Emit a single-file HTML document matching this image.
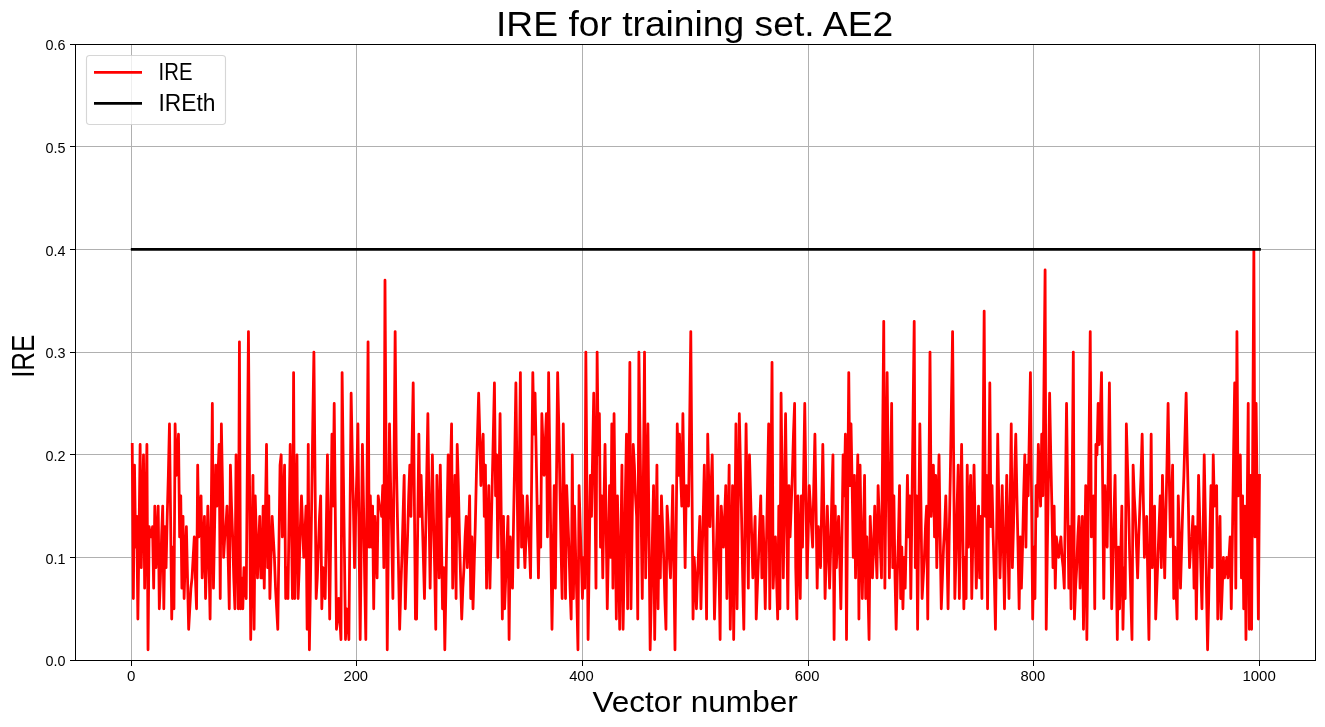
<!DOCTYPE html><html><head><meta charset="utf-8"><title>IRE for training set. AE2</title>
<style>html,body{margin:0;padding:0;background:#fff;}body{width:1325px;height:727px;overflow:hidden;font-family:"Liberation Sans",sans-serif;}svg{display:block;}text{font-family:"Liberation Sans",sans-serif;fill:#000;}svg{will-change:transform;}</style></head><body>
<svg width="1325" height="727" viewBox="0 0 1325 727">
<rect x="0" y="0" width="1325" height="727" fill="#ffffff"/>
<g stroke="#b0b0b0" stroke-width="1" shape-rendering="crispEdges"><line x1="131.5" y1="44.5" x2="131.5" y2="660.5"/><line x1="356.5" y1="44.5" x2="356.5" y2="660.5"/><line x1="582.5" y1="44.5" x2="582.5" y2="660.5"/><line x1="808.5" y1="44.5" x2="808.5" y2="660.5"/><line x1="1033.5" y1="44.5" x2="1033.5" y2="660.5"/><line x1="1259.5" y1="44.5" x2="1259.5" y2="660.5"/><line x1="75.5" y1="557.5" x2="1315.5" y2="557.5"/><line x1="75.5" y1="454.5" x2="1315.5" y2="454.5"/><line x1="75.5" y1="352.5" x2="1315.5" y2="352.5"/><line x1="75.5" y1="249.5" x2="1315.5" y2="249.5"/><line x1="75.5" y1="146.5" x2="1315.5" y2="146.5"/></g>
<svg x="75.5" y="44.5" width="1240.0" height="616.0" viewBox="75.5 44.5 1240.0 616.0" overflow="hidden">
<polyline fill="none" stroke="#ff0000" stroke-width="2.78" stroke-linejoin="round" stroke-linecap="square" points="132.23,444.50 133.36,598.50 134.49,465.03 135.61,547.17 136.74,516.37 137.87,619.03 139.00,536.90 140.13,444.50 141.26,567.70 142.38,506.10 143.51,454.77 144.64,588.23 145.77,516.37 146.90,444.50 148.03,649.83 149.15,526.63 150.28,536.90 151.41,536.90 152.54,526.63 153.67,588.23 154.80,506.10 155.92,567.70 157.05,536.90 158.18,506.10 159.31,608.77 160.44,577.97 161.57,536.90 162.70,506.10 163.82,608.77 164.95,526.63 166.08,567.70 167.21,516.37 168.34,475.30 169.47,423.97 170.59,516.37 171.72,619.03 172.85,547.17 173.98,608.77 175.11,423.97 176.24,475.30 177.36,454.77 178.49,434.23 179.62,536.90 180.75,495.83 181.88,588.23 183.01,516.37 184.13,598.50 185.26,557.43 186.39,526.63 187.52,577.97 188.65,629.30 189.78,608.77 190.91,588.23 192.03,577.97 193.16,557.43 194.29,536.90 195.42,577.97 196.55,608.77 197.68,465.03 198.80,536.90 199.93,516.37 201.06,495.83 202.19,577.97 203.32,547.17 204.45,516.37 205.57,598.50 206.70,557.43 207.83,506.10 208.96,557.43 210.09,619.03 211.22,516.37 212.34,403.43 213.47,588.23 214.60,526.63 215.73,465.03 216.86,506.10 217.99,475.30 219.12,444.50 220.24,598.50 221.37,423.97 222.50,485.57 223.63,557.43 224.76,536.90 225.89,526.63 227.01,506.10 228.14,557.43 229.27,608.77 230.40,465.03 231.53,506.10 232.66,536.90 233.78,577.97 234.91,608.77 236.04,454.77 237.17,536.90 238.30,608.77 239.43,341.83 240.55,608.77 241.68,577.97 242.81,608.77 243.94,567.70 245.07,588.23 246.20,598.50 247.33,465.03 248.45,331.57 249.58,485.57 250.71,639.57 251.84,557.43 252.97,475.30 254.10,629.30 255.22,495.83 256.35,536.90 257.48,577.97 258.61,547.17 259.74,516.37 260.87,577.97 261.99,577.97 263.12,506.10 264.25,588.23 265.38,516.37 266.51,444.50 267.64,567.70 268.76,495.83 269.89,598.50 271.02,557.43 272.15,516.37 273.28,536.90 274.41,557.43 275.54,588.23 276.66,608.77 277.79,629.30 278.92,547.17 280.05,465.03 281.18,454.77 282.31,536.90 283.43,506.10 284.56,465.03 285.69,598.50 286.82,567.70 287.95,598.50 289.08,516.37 290.20,444.50 291.33,516.37 292.46,598.50 293.59,372.63 294.72,598.50 295.85,526.63 296.97,454.77 298.10,598.50 299.23,567.70 300.36,526.63 301.49,495.83 302.62,526.63 303.75,557.43 304.87,536.90 306.00,506.10 307.13,629.30 308.26,444.50 309.39,649.83 310.52,577.97 311.64,506.10 312.77,423.97 313.90,352.10 315.03,475.30 316.16,598.50 317.29,577.97 318.41,547.17 319.54,516.37 320.67,495.83 321.80,608.77 322.93,567.70 324.06,588.23 325.18,598.50 326.31,526.63 327.44,454.77 328.57,536.90 329.70,619.03 330.83,526.63 331.96,434.23 333.08,506.10 334.21,403.43 335.34,516.37 336.47,629.30 337.60,619.03 338.73,598.50 339.85,619.03 340.98,639.57 342.11,372.63 343.24,465.03 344.37,547.17 345.50,639.57 346.62,608.77 347.75,619.03 348.88,639.57 350.01,516.37 351.14,393.17 352.27,454.77 353.39,506.10 354.52,567.70 355.65,516.37 356.78,475.30 357.91,423.97 359.04,536.90 360.17,639.57 361.29,536.90 362.42,444.50 363.55,506.10 364.68,577.97 365.81,639.57 366.94,495.83 368.06,341.83 369.19,547.17 370.32,495.83 371.45,547.17 372.58,506.10 373.71,608.77 374.83,516.37 375.96,547.17 377.09,577.97 378.22,495.83 379.35,506.10 380.48,506.10 381.60,516.37 382.73,485.57 383.86,567.70 384.99,280.23 386.12,465.03 387.25,649.83 388.38,536.90 389.50,423.97 390.63,485.57 391.76,536.90 392.89,598.50 394.02,465.03 395.15,331.57 396.27,454.77 397.40,516.37 398.53,567.70 399.66,629.30 400.79,588.23 401.92,557.43 403.04,516.37 404.17,475.30 405.30,608.77 406.43,567.70 407.56,536.90 408.69,495.83 409.81,465.03 410.94,516.37 412.07,444.50 413.20,382.90 414.33,495.83 415.46,619.03 416.59,619.03 417.71,526.63 418.84,434.23 419.97,516.37 421.10,475.30 422.23,516.37 423.36,557.43 424.48,598.50 425.61,536.90 426.74,475.30 427.87,413.70 429.00,506.10 430.13,588.23 431.25,516.37 432.38,454.77 433.51,516.37 434.64,567.70 435.77,629.30 436.90,475.30 438.02,526.63 439.15,577.97 440.28,465.03 441.41,536.90 442.54,608.77 443.67,567.70 444.80,649.83 445.92,588.23 447.05,516.37 448.18,454.77 449.31,516.37 450.44,475.30 451.57,423.97 452.69,588.23 453.82,536.90 454.95,475.30 456.08,598.50 457.21,444.50 458.34,485.57 459.46,536.90 460.59,577.97 461.72,619.03 462.85,588.23 463.98,567.70 465.11,536.90 466.23,516.37 467.36,567.70 468.49,536.90 469.62,495.83 470.75,598.50 471.88,536.90 473.01,608.77 474.13,567.70 475.26,526.63 476.39,475.30 477.52,434.23 478.65,393.17 479.78,434.23 480.90,485.57 482.03,454.77 483.16,434.23 484.29,516.37 485.42,465.03 486.55,588.23 487.67,536.90 488.80,485.57 489.93,588.23 491.06,536.90 492.19,485.57 493.32,434.23 494.44,382.90 495.57,495.83 496.70,454.77 497.83,557.43 498.96,485.57 500.09,413.70 501.22,516.37 502.34,619.03 503.47,516.37 504.60,608.77 505.73,577.97 506.86,547.17 507.99,516.37 509.11,639.57 510.24,536.90 511.37,557.43 512.50,588.23 513.63,516.37 514.76,454.77 515.88,382.90 517.01,475.30 518.14,567.70 519.27,475.30 520.40,372.63 521.53,547.17 522.65,495.83 523.78,536.90 524.91,567.70 526.04,536.90 527.17,495.83 528.30,526.63 529.43,547.17 530.55,577.97 531.68,475.30 532.81,372.63 533.94,434.23 535.07,393.17 536.20,454.77 537.32,516.37 538.45,577.97 539.58,506.10 540.71,547.17 541.84,413.70 542.97,444.50 544.09,475.30 545.22,444.50 546.35,413.70 547.48,536.90 548.61,372.63 549.74,454.77 550.86,547.17 551.99,629.30 553.12,557.43 554.25,485.57 555.38,588.23 556.51,475.30 557.64,372.63 558.76,423.97 559.89,485.57 561.02,547.17 562.15,598.50 563.28,423.97 564.41,506.10 565.53,598.50 566.66,485.57 567.79,516.37 568.92,547.17 570.05,588.23 571.18,619.03 572.30,454.77 573.43,598.50 574.56,506.10 575.69,557.43 576.82,598.50 577.95,649.83 579.07,485.57 580.20,526.63 581.33,557.43 582.46,598.50 583.59,557.43 584.72,588.23 585.85,352.10 586.97,495.83 588.10,639.57 589.23,557.43 590.36,475.30 591.49,516.37 592.62,454.77 593.74,393.17 594.87,485.57 596.00,588.23 597.13,352.10 598.26,454.77 599.39,413.70 600.51,547.17 601.64,495.83 602.77,577.97 603.90,506.10 605.03,444.50 606.16,526.63 607.28,608.77 608.41,547.17 609.54,485.57 610.67,557.43 611.80,423.97 612.93,588.23 614.06,413.70 615.18,516.37 616.31,619.03 617.44,495.83 618.57,557.43 619.70,629.30 620.83,547.17 621.95,465.03 623.08,629.30 624.21,567.70 625.34,495.83 626.47,434.23 627.60,608.77 628.72,485.57 629.85,362.37 630.98,608.77 632.11,526.63 633.24,444.50 634.37,465.03 635.49,495.83 636.62,516.37 637.75,619.03 638.88,352.10 640.01,434.23 641.14,516.37 642.27,598.50 643.39,475.30 644.52,352.10 645.65,577.97 646.78,495.83 647.91,423.97 649.04,536.90 650.16,649.83 651.29,598.50 652.42,536.90 653.55,485.57 654.68,639.57 655.81,547.17 656.93,465.03 658.06,608.77 659.19,516.37 660.32,577.97 661.45,495.83 662.58,526.63 663.70,557.43 664.83,598.50 665.96,629.30 667.09,506.10 668.22,526.63 669.35,557.43 670.48,577.97 671.60,536.90 672.73,485.57 673.86,567.70 674.99,649.83 676.12,536.90 677.25,423.97 678.37,475.30 679.50,434.23 680.63,475.30 681.76,506.10 682.89,413.70 684.02,495.83 685.14,567.70 686.27,485.57 687.40,495.83 688.53,506.10 689.66,423.97 690.79,331.57 691.91,475.30 693.04,619.03 694.17,557.43 695.30,577.97 696.43,608.77 697.56,577.97 698.69,547.17 699.81,516.37 700.94,608.77 702.07,557.43 703.20,516.37 704.33,465.03 705.46,536.90 706.58,619.03 707.71,434.23 708.84,485.57 709.97,526.63 711.10,485.57 712.23,454.77 713.35,536.90 714.48,619.03 715.61,577.97 716.74,536.90 717.87,495.83 719.00,567.70 720.12,639.57 721.25,506.10 722.38,526.63 723.51,547.17 724.64,516.37 725.77,485.57 726.90,598.50 728.02,536.90 729.15,465.03 730.28,629.30 731.41,557.43 732.54,485.57 733.67,639.57 734.79,536.90 735.92,423.97 737.05,608.77 738.18,506.10 739.31,413.70 740.44,465.03 741.56,516.37 742.69,577.97 743.82,629.30 744.95,526.63 746.08,423.97 747.21,506.10 748.33,588.23 749.46,454.77 750.59,495.83 751.72,536.90 752.85,577.97 753.98,547.17 755.11,516.37 756.23,619.03 757.36,588.23 758.49,557.43 759.62,526.63 760.75,495.83 761.88,577.97 763.00,516.37 764.13,557.43 765.26,608.77 766.39,547.17 767.52,485.57 768.65,423.97 769.77,608.77 770.90,485.57 772.03,362.37 773.16,588.23 774.29,557.43 775.42,536.90 776.54,577.97 777.67,619.03 778.80,506.10 779.93,608.77 781.06,393.17 782.19,485.57 783.32,577.97 784.44,495.83 785.57,413.70 786.70,516.37 787.83,608.77 788.96,485.57 790.09,536.90 791.21,506.10 792.34,475.30 793.47,434.23 794.60,403.43 795.73,567.70 796.86,619.03 797.98,495.83 799.11,547.17 800.24,598.50 801.37,495.83 802.50,547.17 803.63,475.30 804.75,403.43 805.88,485.57 807.01,577.97 808.14,536.90 809.27,485.57 810.40,506.10 811.53,526.63 812.65,547.17 813.78,485.57 814.91,434.23 816.04,506.10 817.17,588.23 818.30,526.63 819.42,547.17 820.55,567.70 821.68,506.10 822.81,444.50 823.94,516.37 825.07,598.50 826.19,557.43 827.32,506.10 828.45,547.17 829.58,588.23 830.71,547.17 831.84,495.83 832.96,454.77 834.09,639.57 835.22,506.10 836.35,567.70 837.48,536.90 838.61,516.37 839.74,557.43 840.86,608.77 841.99,536.90 843.12,454.77 844.25,495.83 845.38,434.23 846.51,639.57 847.63,506.10 848.76,372.63 849.89,485.57 851.02,423.97 852.15,485.57 853.28,557.43 854.40,475.30 855.53,577.97 856.66,516.37 857.79,454.77 858.92,619.03 860.05,465.03 861.17,536.90 862.30,598.50 863.43,536.90 864.56,475.30 865.69,598.50 866.82,536.90 867.95,588.23 869.07,639.57 870.20,516.37 871.33,547.17 872.46,577.97 873.59,547.17 874.72,506.10 875.84,547.17 876.97,577.97 878.10,485.57 879.23,516.37 880.36,547.17 881.49,577.97 882.61,444.50 883.74,321.30 884.87,588.23 886.00,475.30 887.13,372.63 888.26,475.30 889.38,577.97 890.51,495.83 891.64,403.43 892.77,567.70 893.90,495.83 895.03,577.97 896.16,629.30 897.28,577.97 898.41,536.90 899.54,485.57 900.67,598.50 901.80,547.17 902.93,608.77 904.05,557.43 905.18,588.23 906.31,536.90 907.44,475.30 908.57,536.90 909.70,495.83 910.82,598.50 911.95,506.10 913.08,413.70 914.21,321.30 915.34,567.70 916.47,495.83 917.59,629.30 918.72,526.63 919.85,423.97 920.98,506.10 922.11,598.50 923.24,577.97 924.37,557.43 925.49,526.63 926.62,506.10 927.75,619.03 928.88,485.57 930.01,352.10 931.14,516.37 932.26,485.57 933.39,465.03 934.52,536.90 935.65,475.30 936.78,567.70 937.91,506.10 939.03,454.77 940.16,536.90 941.29,608.77 942.42,577.97 943.55,547.17 944.68,526.63 945.80,495.83 946.93,547.17 948.06,608.77 949.19,536.90 950.32,475.30 951.45,403.43 952.58,331.57 953.70,465.03 954.83,598.50 955.96,557.43 957.09,506.10 958.22,465.03 959.35,598.50 960.47,516.37 961.60,444.50 962.73,526.63 963.86,608.77 964.99,557.43 966.12,598.50 967.24,465.03 968.37,547.17 969.50,516.37 970.63,475.30 971.76,598.50 972.89,536.90 974.01,465.03 975.14,526.63 976.27,588.23 977.40,547.17 978.53,506.10 979.66,577.97 980.79,516.37 981.91,598.50 983.04,454.77 984.17,311.03 985.30,516.37 986.43,475.30 987.56,608.77 988.68,495.83 989.81,382.90 990.94,526.63 992.07,485.57 993.20,536.90 994.33,577.97 995.45,629.30 996.58,536.90 997.71,434.23 998.84,506.10 999.97,577.97 1001.10,536.90 1002.22,485.57 1003.35,547.17 1004.48,608.77 1005.61,536.90 1006.74,475.30 1007.87,536.90 1009.00,598.50 1010.12,506.10 1011.25,423.97 1012.38,567.70 1013.51,526.63 1014.64,475.30 1015.77,434.23 1016.89,495.83 1018.02,547.17 1019.15,608.77 1020.28,536.90 1021.41,588.23 1022.54,547.17 1023.66,495.83 1024.79,454.77 1025.92,547.17 1027.05,465.03 1028.18,495.83 1029.31,434.23 1030.43,372.63 1031.56,495.83 1032.69,619.03 1033.82,547.17 1034.95,598.50 1036.08,485.57 1037.21,516.37 1038.33,444.50 1039.46,475.30 1040.59,506.10 1041.72,434.23 1042.85,495.83 1043.98,382.90 1045.10,269.97 1046.23,629.30 1047.36,547.17 1048.49,475.30 1049.62,393.17 1050.75,454.77 1051.87,506.10 1053.00,567.70 1054.13,506.10 1055.26,588.23 1056.39,536.90 1057.52,547.17 1058.64,557.43 1059.77,547.17 1060.90,536.90 1062.03,557.43 1063.16,567.70 1064.29,588.23 1065.42,495.83 1066.54,403.43 1067.67,495.83 1068.80,588.23 1069.93,526.63 1071.06,608.77 1072.19,485.57 1073.31,352.10 1074.44,619.03 1075.57,588.23 1076.70,567.70 1077.83,536.90 1078.96,516.37 1080.08,588.23 1081.21,547.17 1082.34,516.37 1083.47,629.30 1084.60,557.43 1085.73,485.57 1086.85,639.57 1087.98,536.90 1089.11,434.23 1090.24,331.57 1091.37,536.90 1092.50,516.37 1093.63,495.83 1094.75,608.77 1095.88,444.50 1097.01,454.77 1098.14,403.43 1099.27,444.50 1100.40,413.70 1101.52,372.63 1102.65,485.57 1103.78,598.50 1104.91,485.57 1106.04,516.37 1107.17,547.17 1108.29,465.03 1109.42,382.90 1110.55,495.83 1111.68,608.77 1112.81,567.70 1113.94,516.37 1115.06,475.30 1116.19,557.43 1117.32,639.57 1118.45,547.17 1119.58,608.77 1120.71,557.43 1121.84,506.10 1122.96,629.30 1124.09,567.70 1125.22,598.50 1126.35,423.97 1127.48,465.03 1128.61,506.10 1129.73,557.43 1130.86,598.50 1131.99,639.57 1133.12,465.03 1134.25,495.83 1135.38,516.37 1136.50,547.17 1137.63,577.97 1138.76,536.90 1139.89,506.10 1141.02,475.30 1142.15,434.23 1143.27,495.83 1144.40,557.43 1145.53,536.90 1146.66,516.37 1147.79,577.97 1148.92,639.57 1150.05,536.90 1151.17,434.23 1152.30,567.70 1153.43,536.90 1154.56,506.10 1155.69,619.03 1156.82,588.23 1157.94,557.43 1159.07,526.63 1160.20,495.83 1161.33,567.70 1162.46,475.30 1163.59,526.63 1164.71,577.97 1165.84,516.37 1166.97,465.03 1168.10,403.43 1169.23,475.30 1170.36,536.90 1171.48,506.10 1172.61,465.03 1173.74,598.50 1174.87,547.17 1176.00,588.23 1177.13,619.03 1178.26,495.83 1179.38,536.90 1180.51,588.23 1181.64,547.17 1182.77,506.10 1183.90,475.30 1185.03,434.23 1186.15,393.17 1187.28,454.77 1188.41,506.10 1189.54,567.70 1190.67,547.17 1191.80,536.90 1192.92,516.37 1194.05,588.23 1195.18,526.63 1196.31,619.03 1197.44,547.17 1198.57,475.30 1199.69,516.37 1200.82,567.70 1201.95,608.77 1203.08,536.90 1204.21,454.77 1205.34,516.37 1206.47,588.23 1207.59,649.83 1208.72,598.50 1209.85,536.90 1210.98,485.57 1212.11,567.70 1213.24,454.77 1214.36,506.10 1215.49,495.83 1216.62,485.57 1217.75,619.03 1218.88,567.70 1220.01,516.37 1221.13,619.03 1222.26,588.23 1223.39,557.43 1224.52,577.97 1225.65,567.70 1226.78,557.43 1227.90,577.97 1229.03,557.43 1230.16,536.90 1231.29,608.77 1232.42,536.90 1233.55,454.77 1234.68,382.90 1235.80,588.23 1236.93,331.57 1238.06,495.83 1239.19,475.30 1240.32,454.77 1241.45,577.97 1242.57,495.83 1243.70,608.77 1244.83,506.10 1245.96,639.57 1247.09,516.37 1248.22,403.43 1249.34,629.30 1250.47,475.30 1251.60,629.30 1252.73,444.50 1253.86,249.43 1254.99,536.90 1256.11,403.43 1257.24,506.10 1258.37,619.03 1259.50,475.30"/>
<line x1="132.23" y1="249.43" x2="1259.50" y2="249.43" stroke="#000" stroke-width="2.78" stroke-linecap="square"/>
</svg>
<rect x="75.5" y="44.5" width="1240.0" height="616.0" fill="none" stroke="#000" stroke-width="1.1" shape-rendering="crispEdges"/>
<g stroke="#000" stroke-width="1.1" shape-rendering="crispEdges"><line x1="131.5" y1="660.5" x2="131.5" y2="665.9"/><line x1="356.5" y1="660.5" x2="356.5" y2="665.9"/><line x1="582.5" y1="660.5" x2="582.5" y2="665.9"/><line x1="808.5" y1="660.5" x2="808.5" y2="665.9"/><line x1="1033.5" y1="660.5" x2="1033.5" y2="665.9"/><line x1="1259.5" y1="660.5" x2="1259.5" y2="665.9"/><line x1="70.1" y1="660.5" x2="75.5" y2="660.5"/><line x1="70.1" y1="557.5" x2="75.5" y2="557.5"/><line x1="70.1" y1="454.5" x2="75.5" y2="454.5"/><line x1="70.1" y1="352.5" x2="75.5" y2="352.5"/><line x1="70.1" y1="249.5" x2="75.5" y2="249.5"/><line x1="70.1" y1="146.5" x2="75.5" y2="146.5"/><line x1="70.1" y1="44.5" x2="75.5" y2="44.5"/></g>
<text x="126.90" y="681.2" font-size="14.4" textLength="8.4" lengthAdjust="spacingAndGlyphs">0</text>
<text x="343.48" y="681.2" font-size="14.4" textLength="24.6" lengthAdjust="spacingAndGlyphs">200</text>
<text x="569.16" y="681.2" font-size="14.4" textLength="24.6" lengthAdjust="spacingAndGlyphs">400</text>
<text x="794.84" y="681.2" font-size="14.4" textLength="24.6" lengthAdjust="spacingAndGlyphs">600</text>
<text x="1020.52" y="681.2" font-size="14.4" textLength="24.6" lengthAdjust="spacingAndGlyphs">800</text>
<text x="1242.40" y="681.2" font-size="14.4" textLength="33.4" lengthAdjust="spacingAndGlyphs">1000</text>
<text x="45.4" y="666.20" font-size="14.4" textLength="20.0" lengthAdjust="spacingAndGlyphs">0.0</text>
<text x="45.4" y="563.53" font-size="14.4" textLength="20.0" lengthAdjust="spacingAndGlyphs">0.1</text>
<text x="45.4" y="460.87" font-size="14.4" textLength="20.0" lengthAdjust="spacingAndGlyphs">0.2</text>
<text x="45.4" y="358.20" font-size="14.4" textLength="20.0" lengthAdjust="spacingAndGlyphs">0.3</text>
<text x="45.4" y="255.53" font-size="14.4" textLength="20.0" lengthAdjust="spacingAndGlyphs">0.4</text>
<text x="45.4" y="152.87" font-size="14.4" textLength="20.0" lengthAdjust="spacingAndGlyphs">0.5</text>
<text x="45.4" y="50.20" font-size="14.4" textLength="20.0" lengthAdjust="spacingAndGlyphs">0.6</text>
<text x="496.0" y="35.7" font-size="34.4" textLength="397.2" lengthAdjust="spacingAndGlyphs">IRE for training set. AE2</text>
<text x="592.4" y="711.6" font-size="29.2" textLength="205.4" lengthAdjust="spacingAndGlyphs">Vector number</text>
<text transform="translate(34.1,377.85) rotate(-90)" x="0" y="0" font-size="30.8" textLength="43.3" lengthAdjust="spacingAndGlyphs">IRE</text>
<rect x="86.5" y="55.5" width="139" height="69" rx="3.2" ry="3.2" fill="#ffffff" fill-opacity="0.8" stroke="#cccccc" stroke-opacity="0.8" stroke-width="1.1"/>
<line x1="94" y1="72.4" x2="142" y2="72.4" stroke="#ff0000" stroke-width="2.78"/>
<line x1="94" y1="103.3" x2="142" y2="103.3" stroke="#000000" stroke-width="2.78"/>
<text x="158.6" y="79.9" font-size="23.5" textLength="33.9" lengthAdjust="spacingAndGlyphs">IRE</text>
<text x="158.5" y="111.2" font-size="23.5" textLength="57.0" lengthAdjust="spacingAndGlyphs">IREth</text>
</svg></body></html>
